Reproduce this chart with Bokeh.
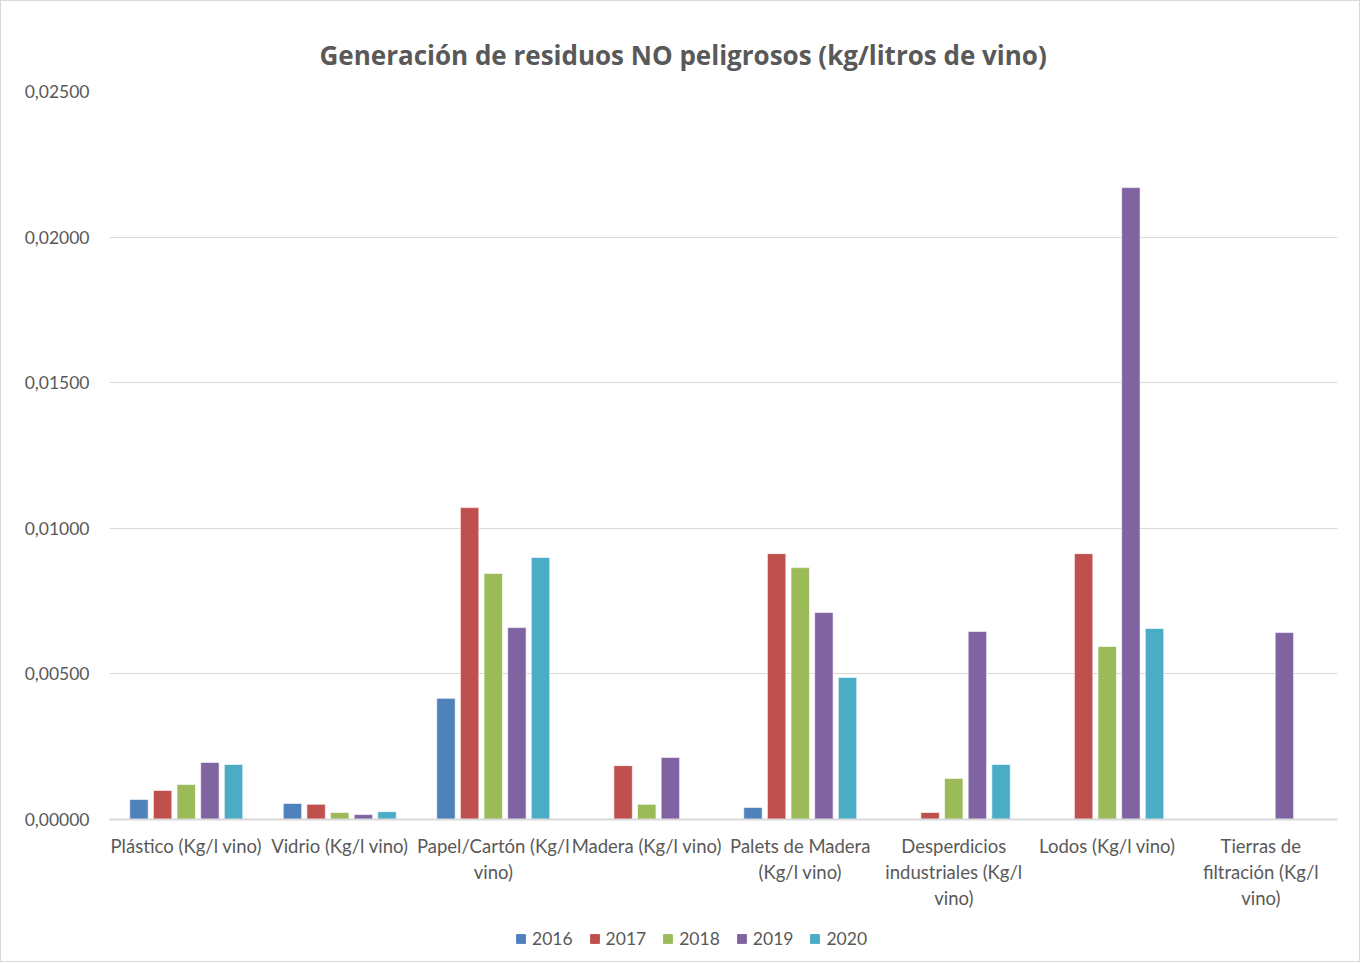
from bokeh.plotting import figure
from bokeh.layouts import column
from bokeh.models import ColumnDataSource, Legend, LegendItem, CustomJSTickFormatter, FixedTicker, Range1d
from bokeh.embed import file_html
from bokeh.resources import INLINE

categories = [
    "Plástico (Kg/l vino)",
    "Vidrio (Kg/l vino)",
    "Papel/Cartón (Kg/l\nvino)",
    "Madera (Kg/l vino)",
    "Palets de Madera\n(Kg/l vino)",
    "Desperdicios\nindustriales (Kg/l\nvino)",
    "Lodos (Kg/l vino)",
    "Tierras de\nfiltración (Kg/l\nvino)",
]
years = ["2016", "2017", "2018", "2019", "2020"]
v2016 = [0.00069, 0.00055, 0.00416, 0.0, 0.00041, 0.0, 0.0, 0.0]
v2017 = [0.00100, 0.00052, 0.01071, 0.00185, 0.00913, 0.00024, 0.00913, 0.0]
v2018 = [0.00120, 0.00024, 0.00845, 0.00052, 0.00865, 0.00141, 0.00594, 0.0]
v2019 = [0.00196, 0.00017, 0.00659, 0.00213, 0.00711, 0.00646, 0.02170, 0.00642]
v2020 = [0.00189, 0.00027, 0.00900, 0.0, 0.00488, 0.00189, 0.00656, 0.0]
colors = ["#4f81bd", "#c0504d", "#9bbb59", "#8064a2", "#4bacc6"]
series = [v2016, v2017, v2018, v2019, v2020]

p = figure(width=1358, height=920, output_backend="svg", toolbar_location=None,
           x_range=Range1d(0, len(categories)), y_range=Range1d(0, 0.025),
           min_border_left=108, min_border_right=22, min_border_top=90, min_border_bottom=102,
           title="Generación de residuos NO peligrosos (kg/litros de vino)")
p.outline_line_color = None
p.title.align = "left"
p.title.offset = 210
p.title.text_font = "Open Sans"
p.title.text_font_size = "26px"
p.title.text_font_style = "bold"
p.title.text_color = "#595959"
p.title.standoff = 38

width = 0.12
stride = 0.154
for i, (yr, vals, col) in enumerate(zip(years, series, colors)):
    xs = [c + 0.5 + (i - 2) * stride for c in range(len(categories))]
    src = ColumnDataSource(dict(x=xs, top=vals))
    p.vbar(x="x", top="top", bottom=0, width=width, source=src,
           fill_color=col, line_color="white", line_alpha=0.6, line_width=1)

p.xaxis.ticker = FixedTicker(ticks=[c + 0.5 for c in range(len(categories))])
p.xaxis.major_label_overrides = {c + 0.5: lab for c, lab in enumerate(categories)}
p.xaxis.major_tick_line_color = None
p.xaxis.minor_tick_line_color = None
p.xaxis.axis_line_color = "#d9d9d9"
p.xaxis.axis_line_width = 2
p.xaxis.major_label_text_font = "Lato"
p.xaxis.major_label_text_font_size = "18.5px"
p.xaxis.major_label_text_color = "#595959"
p.xaxis.major_label_standoff = 9

p.yaxis.ticker = FixedTicker(ticks=[0, 0.005, 0.01, 0.015, 0.02, 0.025])
p.yaxis.formatter = CustomJSTickFormatter(code="return tick.toFixed(5).replace('.', ',');")
p.yaxis.major_tick_line_color = None
p.yaxis.minor_tick_line_color = None
p.yaxis.axis_line_color = None
p.yaxis.major_label_text_font = "Lato"
p.yaxis.major_label_text_font_size = "17.5px"
p.yaxis.major_label_text_color = "#595959"
p.yaxis.major_label_standoff = 14

p.xgrid.grid_line_color = None
p.ygrid.grid_line_color = "#d9d9d9"
p.ygrid.grid_line_width = 1

# legend strip below the chart (its swatch renderers sit outside the visible range)
p2 = figure(width=1358, height=40, output_backend="svg", toolbar_location=None,
            x_range=Range1d(0, 1), y_range=Range1d(0, 1), min_border=0,
            x_axis_type=None, y_axis_type=None)
p2.outline_line_color = None
p2.grid.visible = False
items = []
for yr, col in zip(years, colors):
    r = p2.vbar(x=[-5], top=[-5], bottom=[-6], width=0.1, fill_color=col, line_color=col)
    items.append(LegendItem(label=yr, renderers=[r]))
legend = Legend(items=items, orientation="horizontal", location=(406, 12),
                glyph_width=11, glyph_height=11, label_text_font="Lato",
                label_text_font_size="17.5px", label_text_color="#595959",
                spacing=16, label_standoff=6, border_line_color=None,
                background_fill_alpha=0, padding=4, margin=0)
p2.add_layout(legend, "center")

layout = column(p, p2, spacing=0, styles={"border": "1px solid #d9d9d9"})

open("out.html", "w").write(file_html(layout, INLINE))
